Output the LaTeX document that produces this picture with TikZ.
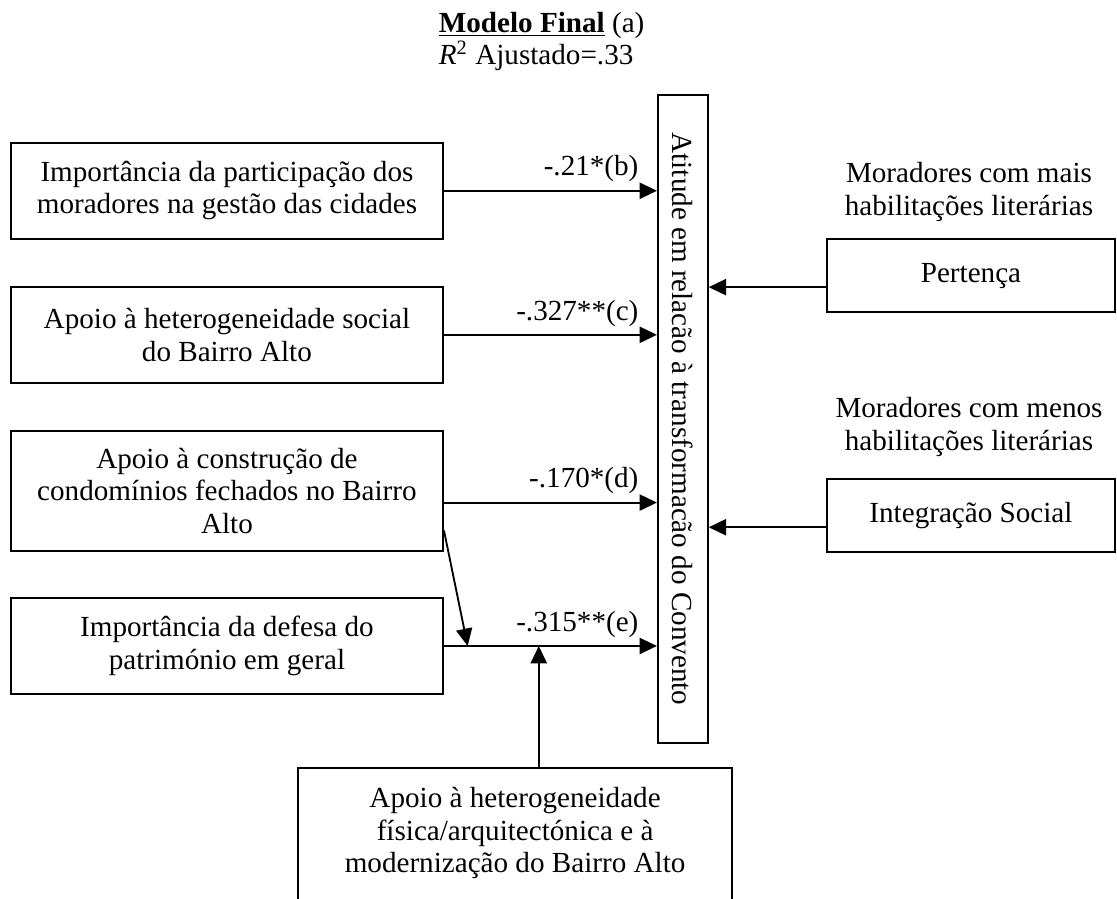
\documentclass[tikz,border=0pt]{standalone}
\usepackage{fontspec}
\setmainfont{Liberation Serif}
\usepackage{graphicx}
\usetikzlibrary{arrows.meta}
\tikzset{box/.style={draw,line width=0.8pt,align=center,inner sep=2pt}}
\tikzset{edge/.style={line width=0.8pt,-{Triangle[length=7.5pt,width=7pt]}}}
\tikzset{coef/.style={anchor=south east,xshift=-0.15cm}}

\begin{document}
\begin{tikzpicture}[font=\fontsize{12.6}{14}\selectfont]
    \path[use as bounding box,clip] (0,0) rectangle (16.98,-13.66);
    \node[align=left,anchor=north west,inner sep=1pt] (tit) at (6.63,-0.14) {\underline{\textbf{Modelo Final}} (a)\\\textit{R}\textsuperscript{2} Ajustado=.33};
    \node[box,minimum width=0.76cm,minimum height=9.85cm] (atit) at (10.38,-6.37) {\rotatebox{-90}{Atitude em relacão à transformacão do Convento}};
    \node[box,minimum width=6.57cm,minimum height=1.46cm] (imp) at (3.45,-2.90) {Importância da participação dos\\moradores na gestão das cidades};
    \node[box,minimum width=6.57cm,minimum height=1.46cm] (soc) at (3.45,-5.09) {Apoio à heterogeneidade social\\do Bairro Alto};
    \node[box,minimum width=6.57cm,minimum height=1.82cm] (cond) at (3.45,-7.46) {Apoio à construção de\\condomínios fechados no Bairro\\Alto};
    \node[box,minimum width=6.57cm,minimum height=1.46cm] (pat) at (3.45,-9.82) {Importância da defesa do\\património em geral};
    \node[box,anchor=north,minimum width=6.6cm,inner ysep=0.3cm,text depth=2cm] (mod) at (7.83,-11.66) {Apoio à heterogeneidade\\física/arquitectónica e à\\modernização do Bairro Alto};
    \node[align=center] (mais) at (14.73,-2.92) {Moradores com mais\\habilitações literárias};
    \node[box,minimum width=4.38cm,minimum height=1.11cm] (pert) at (14.76,-4.19) {Pertença};
    \node[align=center] (menos) at (14.73,-6.49) {Moradores com menos\\habilitações literárias};
    \node[box,minimum width=4.38cm,minimum height=1.11cm] (integ) at (14.76,-7.84) {Integração Social};
    \coordinate (med) at ([xshift=0.36cm]pat.east);
    \draw[edge] (imp.east) -- (imp.east -| atit.west) node[coef] {-.21*(b)};
    \draw[edge] (soc.east) -- (soc.east -| atit.west) node[coef] {-.327**(c)};
    \draw[edge] ([yshift=-0.18cm]cond.east) -- ([yshift=-0.18cm]cond.east -| atit.west) node[coef] {-.170*(d)};
    \draw[edge] (pat.east) -- (pat.east -| atit.west) node[coef] {-.315**(e)};
    \draw[edge] ([yshift=0.32cm]cond.south east) -- (med);
    \draw[edge] ([xshift=0.36cm]mod.north) -- ([xshift=0.36cm]mod.north |- pat.east);
    \draw[edge] ([yshift=-0.175cm]pert.west) -- ([yshift=-0.175cm]pert.west -| atit.east);
    \draw[edge] ([yshift=-0.175cm]integ.west) -- ([yshift=-0.175cm]integ.west -| atit.east);
\end{tikzpicture}
\end{document}
